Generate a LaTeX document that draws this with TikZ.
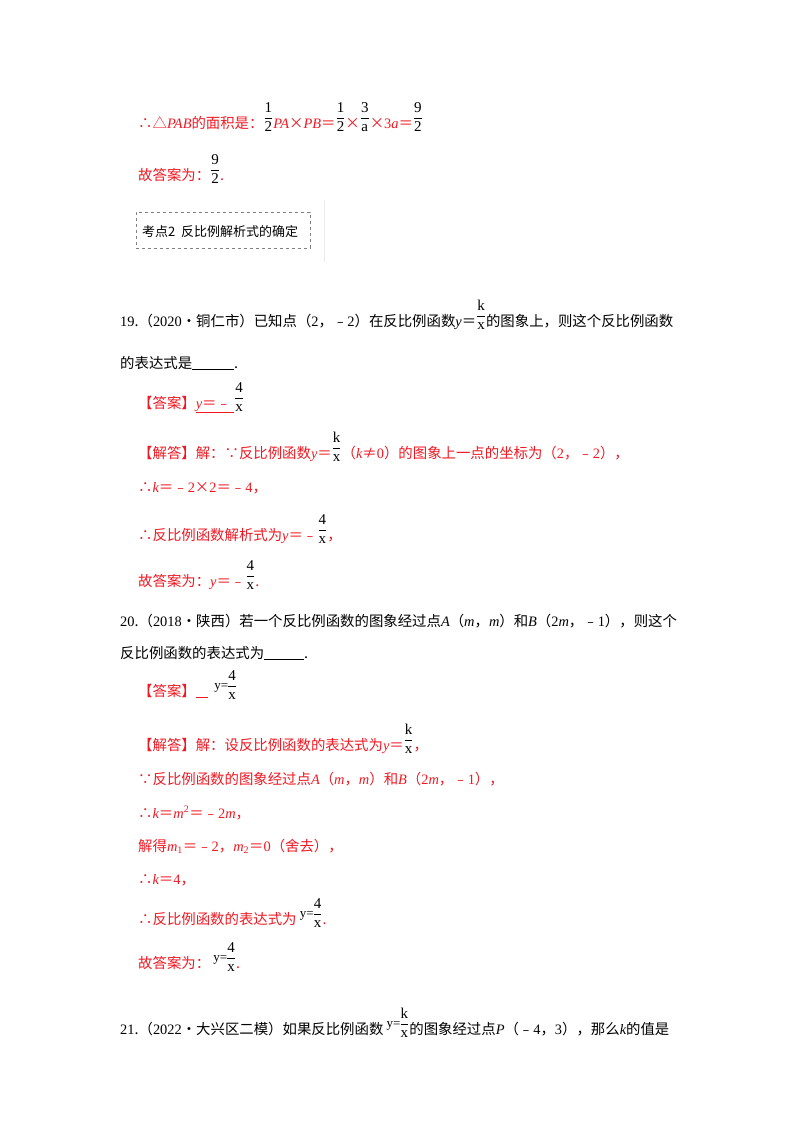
\documentclass[tikz,border=0pt]{standalone}
\usepackage{fontspec}
\setmainfont{Noto Sans CJK SC}
\newfontfamily\lat{Liberation Serif}
\definecolor{ansred}{RGB}{240,25,35}
\newcommand{\vv}[1]{{\lat\itshape #1}}
\newcommand{\nn}[1]{{\lat #1}}
\newcommand{\fr}[2]{\raisebox{0.42em}{\color{black}\fontsize{15}{15}\selectfont$\displaystyle\frac{\hbox{\lat #1}}{\hbox{\lat #2}}$}}
\newcommand{\yfr}[2]{\raisebox{0.45em}{\color{black}\lat\fontsize{13}{13}\selectfont y=}\kern-1pt\fr{#1}{#2}}
\begin{document}
\begin{tikzpicture}[x=1pt,y=-1pt,
  txt/.style={anchor=base west,inner sep=0pt,font=\fontsize{14.4}{16}\selectfont},
  red/.style={txt,text=ansred}]
\useasboundingbox[fill=white] (0,0) rectangle (800,1132);
\node[red] (l1) at (138,128) {∴△\vv{PAB}的面积是：\fr{1}{2}\vv{PA}×\vv{PB}＝\fr{1}{2}×\fr{3}{a}×\nn{3}\vv{a}＝\fr{9}{2}};
\node[red] (l2) at (138,180) {故答案为：\fr{9}{2}.};
\node[draw=gray,dashed,thick,anchor=north west,minimum width=174,minimum height=36,inner sep=0pt] (box) at (136,212) {};
\node[txt,font=\fontsize{13}{15}\selectfont] (boxt) at (142,236) {考点2\ \ 反比例解析式的确定};
\draw[black!8] (324,200) -- (324,262);
\node[txt] (q19a) at (120,326) {\nn{19}.（\nn{2020}•铜仁市）已知点（\nn{2}，﹣\nn{2}）在反比例函数\vv{y}＝\fr{k}{x}的图象上，则这个反比例函数};
\node[txt] (q19b) at (120,368) {的表达式是\underline{\hspace{42pt}}.};
\node[red] (a19) at (138,408) {【答案】\underline{\vv{y}＝﹣\ }\fr{4}{x}};
\node[red] (s1) at (138,458) {【解答】解：∵反比例函数\vv{y}＝\fr{k}{x}（\vv{k}≠\nn{0}）的图象上一点的坐标为（\nn{2}，﹣\nn{2}），};
\node[red] (s2) at (138,492) {∴\vv{k}＝﹣\nn{2}×\nn{2}＝﹣\nn{4}，};
\node[red] (s3) at (138,540) {∴反比例函数解析式为\vv{y}＝﹣\fr{4}{x}，};
\node[red] (s4) at (138,586) {故答案为：\vv{y}＝﹣\fr{4}{x}.};
\node[txt] (q20a) at (120,626) {\nn{20}.（\nn{2018}•陕西）若一个反比例函数的图象经过点\vv{A}（\vv{m}，\vv{m}）和\vv{B}（\nn{2}\vv{m}，﹣\nn{1}），则这个};
\node[txt] (q20b) at (120,658) {反比例函数的表达式为\underline{\hspace{40pt}}.};
\node[red] (a20) at (138,696) {【答案】\underline{\hspace{12pt}}\ \ \yfr{4}{x}};
\node[red] (t1) at (138,750) {【解答】解：设反比例函数的表达式为\vv{y}＝\fr{k}{x}，};
\node[red] (t2) at (138,784) {∵反比例函数的图象经过点\vv{A}（\vv{m}，\vv{m}）和\vv{B}（\nn{2}\vv{m}，﹣\nn{1}），};
\node[red] (t3) at (138,818) {∴\vv{k}＝\vv{m}\nn{\textsuperscript{2}}＝﹣\nn{2}\vv{m}，};
\node[red] (t4) at (138,851) {解得\vv{m}\nn{\textsubscript{1}}＝﹣\nn{2}，\vv{m}\nn{\textsubscript{2}}＝\nn{0}（舍去），};
\node[red] (t5) at (138,884) {∴\vv{k}＝\nn{4}，};
\node[red] (t6) at (138,924) {∴反比例函数的表达式为\ \yfr{4}{x}.};
\node[red] (t7) at (138,968) {故答案为：\ \yfr{4}{x}.};
\node[txt] (q21) at (120,1034) {\nn{21}.（\nn{2022}•大兴区二模）如果反比例函数\ \yfr{k}{x}的图象经过点\vv{P}（﹣\nn{4}，\nn{3}），那么\vv{k}的值是};
\end{tikzpicture}
\end{document}
